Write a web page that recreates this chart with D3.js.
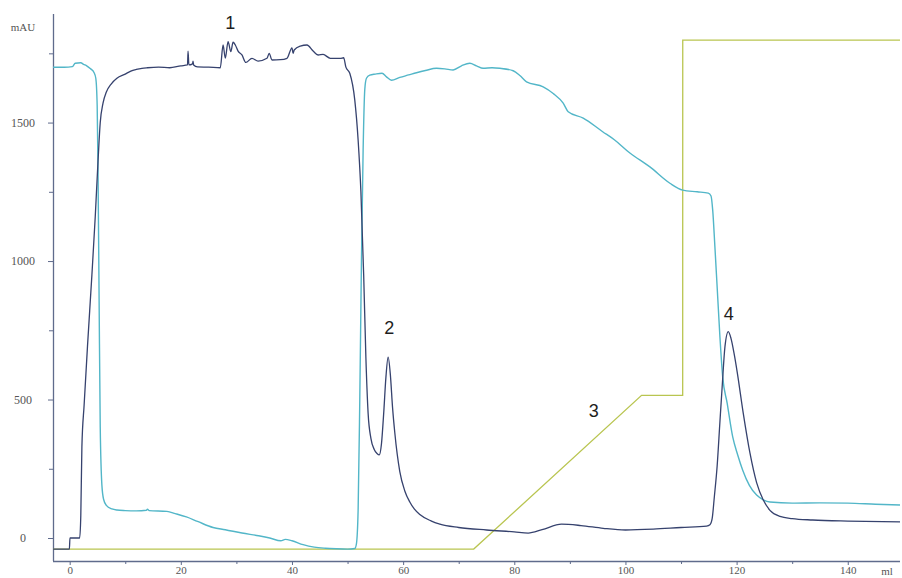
<!DOCTYPE html>
<html>
<head>
<meta charset="utf-8">
<script src="https://cdn.jsdelivr.net/npm/d3@7"></script>
<style>
  html, body { margin: 0; padding: 0; background: #fff; }
  svg { display: block; }
</style>
</head>
<body>
<svg id="chart" width="902" height="578"></svg>
<script>
// Chromatogram: UV absorbance, conductivity and gradient traces vs. elution volume (ml)

// UV absorbance trace [ml, mAU]
const uvTrace = [
  [-3,-40],[-0.05,-40],[0.05,0],[1.8,0],[2.0,80],[2.2,330],[2.6,480],[3.2,690],[4.0,950],[4.6,1160],
  [5.1,1360],[5.5,1500],[6.0,1570],[6.6,1610],[7.5,1640],[8.5,1660],[10,1675],[11,1686],[12,1692],
  [13,1696],[14,1698],[16,1700],[18,1698],[20,1705],[21.2,1708],[21.3,1758],[21.45,1708],[22.1,1712],
  [22.2,1722],[22.3,1708],[23,1701],[25,1700],[27.1,1698],[27.6,1780],[28,1733],[28.5,1792],[29.0,1756],
  [29.4,1790],[29.8,1780],[30.3,1758],[31,1744],[31.7,1717],[32.8,1732],[33.9,1722],[35.5,1732],
  [35.9,1750],[36.4,1726],[37.9,1727],[39.1,1732],[40,1770],[40.2,1750],[40.4,1762],[41.5,1776],
  [42.7,1780],[43.8,1758],[44.7,1744],[45.6,1746],[46.9,1732],[48.7,1732],[49.3,1734],[49.7,1700],
  [50.4,1678],[51.3,1581],[51.9,1437],[52.4,1250],[52.9,950],[53.3,650],[53.7,450],[54.2,360],
  [54.8,320],[55.3,305],[55.7,300],[56.1,340],[56.5,450],[56.9,580],[57.3,653],[57.7,590],[58.1,470],
  [58.5,380],[59.4,240],[60.3,170],[61.2,130],[62,105],[63,85],[65,62],[66.6,50],[70,38],[75,29],
  [80,22],[82.5,18],[85,30],[88.5,50],[92,45],[96,35],[100,29],[105,32],[110,38],[114.6,43],
  [115.2,48],[115.6,70],[116.0,150],[116.5,260],[117.0,420],[117.4,545],[117.9,690],[118.5,745],
  [119.0,720],[119.6,660],[120.1,600],[121.2,450],[122.4,307],[123.6,200],[124.8,137],[126.0,100],
  [127.8,78],[130,70],[133.7,65],[140,61],[149.4,58]
];

// Conductivity trace [ml, mAU-scaled]
const condTrace = [
  [-3,1700],[-1,1700],[0.5,1702],[1.0,1714],[2.0,1716],[2.5,1710],[3.0,1706],[3.7,1695],[4.4,1680],
  [4.7,1660],[4.95,1560],[5.1,1330],[5.3,850],[5.5,400],[5.8,190],[6.1,140],[6.6,118],[7.6,105],
  [8.5,101],[10,99],[12,98],[13.8,100],[14,104],[14.3,99],[17.5,96],[19,88],[21,76],[23,60],
  [25.8,38],[28,30],[31,18],[34,8],[36,0],[38,-10],[38.8,-5],[40,-10],[42,-24],[44,-33],[46,-37],
  [48,-39],[50,-40],[51.3,-38],[51.6,-20],[51.9,100],[52.2,500],[52.5,1000],[52.8,1400],[53.1,1620],
  [53.4,1660],[54.0,1671],[55,1675],[56.2,1678],[57.0,1665],[57.9,1653],[59.4,1663],[61,1672],
  [62.4,1680],[64,1688],[66.0,1696],[67.5,1694],[69.0,1690],[70.5,1705],[72.0,1714],[73.2,1705],
  [74.4,1696],[76,1698],[77.4,1696],[79.8,1687],[81,1670],[82.2,1647],[85.2,1629],[87,1605],
  [88.8,1570],[89.7,1539],[92.4,1516],[95.9,1467],[98,1438],[100.8,1390],[104.4,1340],[108.0,1281],
  [110.3,1256],[112.9,1250],[114.9,1245],[115.4,1235],[115.7,1184],[116.1,1050],[116.5,906],
  [117.0,726],[117.5,581],[118.3,487],[119.3,365],[120.2,300],[121.1,245],[122.3,190],[123.6,155],
  [124.8,138],[126.0,130],[130,126],[135,127],[140,126],[145,122],[149.4,119]
];

// Gradient (%B) trace, drawn on the same axis
const gradientTrace = [
  [-3,-40],[72.7,-40],[102.9,515],[110.3,515],[110.31,1798],[149.4,1798]
];

// Peak annotations [ml, mAU, label]
const peakLabels = [
  [28.9,1860,"1"],[57.5,760,"2"],[94.3,460,"3"],[118.6,810,"4"]
];

// Axis ticks
const yMajorTicks = [0, 500, 1000, 1500];
const yMinorTicks = [250, 750, 1250, 1750];
const xMajorTicks = [0, 20, 40, 60, 80, 100, 120, 140];
const xMinorTicks = [10, 30, 50, 70, 90, 110, 130];
const xUnit = "ml";
const yUnit = "mAU";

const svg = d3.select("#chart");
const plotLeft = 53, plotRight = 900, plotTop = 14, plotBottom = 561;

const x = d3.scaleLinear().domain([-3, 149.4]).range([plotLeft, plotRight]);
const y = d3.scaleLinear().domain([-83, 1892]).range([plotBottom, plotTop]);

const axisColor = "#5f6b8c";
const labelColor = "#555";
const serif = "'Liberation Serif', 'DejaVu Serif', serif";

// Axes
const xAxis = d3.axisBottom(x).tickValues(xMajorTicks).tickSize(4).tickPadding(1).tickFormat(d3.format("d"));
const xAxisMinor = d3.axisBottom(x).tickValues(xMinorTicks).tickSize(3).tickFormat("");
const yAxis = d3.axisLeft(y).tickValues(yMajorTicks).tickSize(5).tickFormat("");
const yAxisMinor = d3.axisLeft(y).tickValues(yMinorTicks).tickSize(4).tickFormat("");

function styleAxis(g) {
  g.select(".domain").attr("stroke", axisColor).attr("stroke-width", 1.3);
  g.selectAll(".tick line").attr("stroke", axisColor).attr("stroke-width", 1);
  g.selectAll(".tick text").attr("fill", labelColor).attr("font-family", serif).attr("font-size", 11);
}

const gx = svg.append("g").attr("transform", `translate(0,${plotBottom})`).call(xAxis).call(styleAxis);
gx.select(".domain").attr("d", `M${plotLeft},0.5H${plotRight}`);
svg.append("g").attr("transform", `translate(0,${plotBottom})`).call(xAxisMinor).call(styleAxis)
  .select(".domain").remove();

const gy = svg.append("g").attr("transform", `translate(${plotLeft},0)`).call(yAxis).call(styleAxis);
gy.select(".domain").attr("d", `M0.5,${plotTop}V${plotBottom}`);
svg.append("g").attr("transform", `translate(${plotLeft},0)`).call(yAxisMinor).call(styleAxis)
  .select(".domain").remove();

// Y tick labels, centred in the left margin
svg.append("g").selectAll("text").data(yMajorTicks).join("text")
  .attr("x", 23).attr("y", d => y(d)).attr("dy", "0.35em")
  .attr("text-anchor", "middle")
  .attr("fill", labelColor).attr("font-family", serif).attr("font-size", 12)
  .text(d => d);

// Units
svg.append("text").attr("x", 23).attr("y", 27).attr("dy", "0.35em").attr("text-anchor", "middle")
  .attr("fill", labelColor).attr("font-family", serif).attr("font-size", 11).text(yUnit);
svg.append("text").attr("x", 887).attr("y", 571).attr("dy", "0.35em").attr("text-anchor", "middle")
  .attr("fill", labelColor).attr("font-family", serif).attr("font-size", 11).text(xUnit);

// Traces
const smooth = d3.line().x(d => x(d[0])).y(d => y(d[1])).curve(d3.curveMonotoneX);
const straight = d3.line().x(d => x(d[0])).y(d => y(d[1]));

svg.append("path").datum(gradientTrace).attr("d", straight)
  .attr("fill", "none").attr("stroke", "#b9c550").attr("stroke-width", 1.3);
svg.append("path").datum(condTrace).attr("d", smooth)
  .attr("fill", "none").attr("stroke", "#52b6c8").attr("stroke-width", 1.4).attr("stroke-linejoin", "round");
svg.append("path").datum(uvTrace).attr("d", smooth)
  .attr("fill", "none").attr("stroke", "#36426e").attr("stroke-width", 1.3).attr("stroke-linejoin", "round");

// Peak numbers
svg.append("g").selectAll("text").data(peakLabels).join("text")
  .attr("x", d => x(d[0])).attr("y", d => y(d[1])).attr("dy", "0.35em")
  .attr("text-anchor", "middle")
  .attr("fill", "#1e1e1e").attr("font-family", "'Liberation Sans', Arial, sans-serif").attr("font-size", 18)
  .text(d => d[2]);
</script>
</body>
</html>
